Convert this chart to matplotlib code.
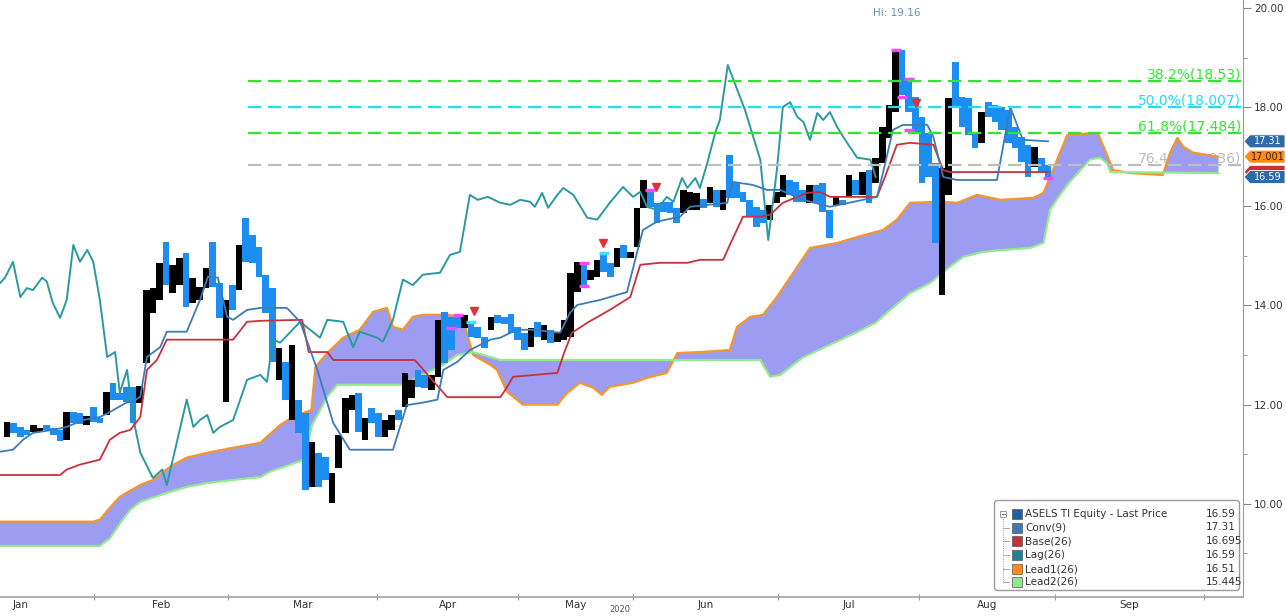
import numpy as np
import matplotlib.pyplot as plt
from matplotlib.patches import Polygon, FancyBboxPatch, Rectangle
from matplotlib.transforms import blended_transform_factory

W, H = 1286, 616

# daily candles (trading-day index 0..157), open / close
opens = [11.35, 11.63, 11.55, 11.49, 11.45, 11.45, 11.59, 11.53, 11.49, 11.29,
         11.85, 11.83, 11.59, 11.95, 11.73, 11.79, 12.44, 12.24, 12.36, 12.36,
         12.04, 12.84, 13.85, 14.11, 15.28, 14.25, 14.41, 15.06, 14.05, 14.11,
         14.35, 15.28, 14.45, 12.06, 14.41, 14.31, 15.76, 15.42, 15.18, 14.62,
         14.35, 12.50, 12.86, 11.69, 12.10, 11.83, 10.34, 11.03, 10.95, 10.02,
         10.72, 11.43, 11.90, 12.24, 11.29, 11.93, 11.83, 11.35, 11.49, 11.89,
         11.95, 12.14, 12.70, 12.60, 12.30, 12.56, 13.87, 13.77, 13.81, 13.55,
         13.67, 13.57, 13.37, 13.51, 13.81, 13.77, 13.83, 13.57, 13.45, 13.16,
         13.67, 13.31, 13.51, 13.27, 13.31, 13.37, 14.27, 14.86, 14.52, 14.58,
         15.06, 14.86, 14.78, 15.22, 14.96, 15.18, 15.97, 16.33, 16.07, 16.09,
         16.09, 15.97, 15.87, 15.93, 15.93, 16.15, 16.07, 16.33, 15.93, 17.04,
         16.47, 16.29, 16.13, 15.99, 15.93, 15.73, 16.07, 16.19, 16.53, 16.49,
         16.33, 16.07, 16.43, 16.47, 15.93, 16.03, 16.13, 16.19, 16.53, 16.23,
         16.73, 16.47, 16.87, 17.38, 17.90, 19.16, 18.59, 18.20, 17.80, 17.48,
         16.87, 14.21, 16.23, 18.91, 18.20, 18.18, 17.50, 17.28, 18.10, 18.04,
         18.00, 17.94, 17.60, 17.40, 17.24, 16.79, 16.97, 16.83]
closes = [11.65, 11.43, 11.35, 11.39, 11.59, 11.53, 11.49, 11.39, 11.27, 11.85,
          11.63, 11.61, 11.77, 11.65, 11.63, 12.26, 12.10, 12.10, 12.06, 11.63,
          12.38, 14.31, 14.35, 14.86, 14.41, 14.82, 14.96, 13.97, 14.56, 14.37,
          14.76, 14.37, 13.75, 14.11, 13.91, 15.22, 14.88, 14.86, 14.58, 13.85,
          12.86, 13.14, 12.10, 13.20, 11.43, 10.28, 11.25, 10.34, 10.48, 10.62,
          11.39, 12.14, 12.20, 11.45, 11.73, 11.63, 11.35, 11.69, 11.79, 11.69,
          12.64, 12.50, 12.36, 12.34, 12.60, 13.71, 12.84, 13.10, 13.55, 13.81,
          13.37, 13.35, 13.14, 13.77, 13.65, 13.63, 13.45, 13.31, 13.10, 13.55,
          13.37, 13.61, 13.25, 13.45, 13.71, 14.66, 14.88, 14.37, 14.72, 14.92,
          14.68, 14.58, 15.16, 14.96, 15.08, 15.97, 16.53, 15.99, 15.66, 15.89,
          15.87, 15.66, 16.33, 16.29, 16.27, 15.97, 16.39, 15.99, 16.33, 16.17,
          16.17, 16.09, 15.79, 15.58, 15.66, 16.03, 16.29, 16.63, 16.23, 16.09,
          16.09, 16.43, 16.07, 15.89, 15.36, 16.19, 16.03, 16.63, 16.23, 16.69,
          16.07, 16.97, 17.60, 18.04, 19.15, 18.25, 17.90, 17.48, 16.47, 16.59,
          15.26, 16.77, 18.19, 18.00, 17.60, 17.44, 17.18, 17.90, 17.80, 17.70,
          17.54, 17.28, 17.18, 16.89, 16.59, 17.20, 16.69, 16.59]

# indicator lines as (trading-day index, value)
conv = [(-1.06, 11.05), (0.9, 11.09), (2.4, 11.29), (3.9, 11.43), (6.9, 11.49), (9.0, 11.55),
        (11.5, 11.69), (14.0, 11.75), (15.5, 11.85), (18.0, 12.04), (19.0, 12.06), (20.1, 12.16),
        (21.1, 12.96), (23.1, 13.16), (24.1, 13.47), (27.1, 13.47), (29.1, 14.11), (30.3, 14.58),
        (31.8, 14.56), (33.2, 13.77), (34.1, 13.71), (36.2, 13.91), (38.2, 13.95), (42.2, 13.95),
        (44.2, 13.67), (46.8, 12.70), (49.2, 11.63), (51.7, 11.09), (58.2, 11.09), (60.3, 11.99),
        (62.7, 12.04), (64.9, 12.10), (65.8, 12.70), (67.9, 12.86), (69.8, 13.10), (72.9, 13.31),
        (74.4, 13.35), (76.9, 13.51), (79.3, 13.51), (83.4, 13.45), (84.9, 13.85), (86.0, 14.01),
        (89.4, 14.11), (93.5, 14.27), (95.0, 15.06), (95.9, 15.52), (98.0, 15.69), (101.5, 15.79),
        (103.0, 15.99), (108.6, 16.07), (109.5, 16.49), (112.5, 16.43), (114.6, 16.33), (116.6, 16.33),
        (117.6, 16.27), (120.1, 16.13), (124.1, 15.99), (131.2, 16.19), (132.1, 16.67), (133.6, 17.54),
        (135.1, 17.64), (138.8, 17.64), (139.7, 17.40), (141.2, 16.59), (143.3, 16.53), (149.3, 16.53),
        (151.3, 18.00), (153.2, 17.34), (157.0, 17.31)]
base = [(-1.06, 10.58), (8.0, 10.58), (9.0, 10.69), (11.0, 10.79), (14.0, 10.89), (15.5, 11.29),
        (17.0, 11.43), (18.6, 11.49), (20.1, 11.75), (21.1, 12.70), (22.6, 12.90), (24.1, 13.31),
        (34.1, 13.31), (36.2, 13.67), (38.2, 13.69), (44.5, 13.71), (45.5, 13.06), (48.3, 13.06),
        (49.2, 12.90), (61.5, 12.90), (66.4, 12.15), (74.4, 12.15), (75.4, 12.35), (76.3, 12.56),
        (83.0, 12.64), (84.0, 13.04), (85.2, 13.45), (87.5, 13.65), (90.9, 13.91), (94.0, 14.17),
        (95.5, 14.82), (98.5, 14.86), (102.6, 14.86), (104.5, 14.92), (108.0, 14.92), (109.0, 15.22),
        (111.0, 15.79), (113.6, 15.79), (115.1, 15.83), (117.0, 16.07), (120.7, 16.27), (122.6, 16.29),
        (124.1, 16.19), (131.2, 16.19), (132.4, 16.59), (134.2, 17.24), (136.2, 17.28), (139.7, 17.24),
        (141.2, 16.73), (142.2, 16.69), (157.0, 16.69)]
lag = [(-1.06, 14.45), (-0.3, 14.56), (0.9, 14.88), (2.0, 14.17), (3.0, 14.35), (3.9, 14.31),
       (5.3, 14.56), (6.0, 14.48), (6.9, 14.05), (8.0, 13.75), (9.0, 14.11), (10.0, 15.22),
       (11.0, 14.88), (12.1, 15.12), (13.0, 14.88), (14.0, 14.11), (15.1, 12.96), (16.3, 13.06),
       (17.0, 12.24), (18.1, 12.70), (18.6, 12.16), (19.0, 11.75), (20.1, 11.03), (22.0, 10.52),
       (23.4, 10.69), (24.1, 10.38), (25.0, 10.89), (27.1, 12.10), (28.1, 11.55), (29.1, 11.69),
       (30.2, 11.79), (31.1, 11.43), (32.1, 11.55), (34.1, 11.69), (36.2, 12.50), (38.2, 12.60),
       (39.2, 12.46), (40.1, 13.31), (41.2, 13.25), (44.2, 13.67), (47.2, 13.35), (48.3, 13.71),
       (50.7, 13.67), (52.2, 13.16), (53.2, 13.47), (55.8, 13.35), (56.7, 13.27), (58.2, 13.71),
       (59.7, 14.52), (61.2, 14.41), (62.7, 14.62), (65.3, 14.66), (66.8, 15.02), (68.3, 15.08),
       (69.8, 16.23), (71.0, 16.13), (72.5, 16.19), (74.4, 16.07), (75.9, 16.03), (77.4, 16.13),
       (78.9, 16.09), (79.6, 15.99), (80.7, 16.27), (81.6, 15.97), (83.0, 16.23), (83.9, 16.37),
       (85.4, 16.23), (87.5, 15.77), (89.0, 15.73), (90.9, 16.07), (92.9, 16.39), (94.4, 16.19),
       (95.5, 16.29), (96.5, 15.99), (98.0, 15.93), (99.5, 16.19), (100.5, 16.09), (101.8, 16.57),
       (102.6, 16.37), (103.8, 16.57), (104.5, 16.37), (105.6, 16.87), (106.8, 17.48), (107.5, 17.74),
       (108.7, 18.85), (111.3, 17.94), (113.6, 16.94), (114.8, 15.32), (116.1, 16.73), (117.0, 18.00),
       (118.1, 18.10), (119.2, 17.80), (120.1, 17.70), (121.1, 17.34), (122.2, 17.88), (123.1, 17.74),
       (124.1, 17.90), (125.2, 17.60), (126.1, 17.40), (128.2, 16.98), (130.2, 16.94), (131.0, 16.59)]
lead1 = [(-1.06, 9.64), (13.0, 9.64), (14.0, 9.68), (15.5, 9.92), (17.0, 10.14), (20.1, 10.38),
         (22.0, 10.48), (24.6, 10.75), (27.1, 10.93), (30.2, 11.03), (34.1, 11.13), (38.2, 11.23),
         (41.2, 11.59), (43.1, 11.75), (45.9, 11.89), (46.5, 12.76), (48.3, 13.04), (50.7, 13.35),
         (53.2, 13.51), (55.2, 13.87), (57.3, 13.95), (58.2, 13.57), (59.7, 13.51), (61.2, 13.77),
         (62.7, 13.81), (66.8, 13.81), (68.8, 13.71), (70.3, 13.00), (72.9, 12.80), (73.9, 12.70),
         (75.4, 12.26), (77.8, 12.00), (83.0, 12.00), (84.5, 12.24), (86.4, 12.44), (88.4, 12.34),
         (89.7, 12.20), (90.9, 12.36), (94.4, 12.44), (96.5, 12.54), (99.5, 12.64), (100.3, 12.84),
         (101.1, 13.04), (104.5, 13.06), (109.0, 13.10), (110.1, 13.57), (112.1, 13.77), (114.0, 13.81),
         (116.1, 14.17), (121.1, 15.16), (125.2, 15.26), (128.2, 15.38), (132.1, 15.52), (134.2, 15.73),
         (136.2, 16.07), (141.2, 16.09), (143.3, 16.07), (146.3, 16.23), (149.8, 16.13), (154.8, 16.17),
         (156.3, 16.27), (157.3, 16.59), (158.8, 17.08), (159.9, 17.44), (164.5, 17.48), (166.4, 16.87),
         (166.8, 16.73), (169.4, 16.67), (174.3, 16.63), (175.4, 17.08), (176.5, 17.38), (177.4, 17.20),
         (178.9, 17.08), (182.7, 17.00)]
lead2 = [(-1.06, 9.15), (14.0, 9.15), (15.5, 9.30), (17.0, 9.60), (18.6, 9.88), (20.1, 10.04),
         (24.1, 10.22), (27.1, 10.34), (30.2, 10.42), (34.1, 10.48), (38.2, 10.54), (39.7, 10.65),
         (42.7, 10.79), (44.9, 10.89), (46.0, 11.59), (48.3, 12.16), (49.8, 12.40), (59.7, 12.40),
         (62.7, 12.60), (65.8, 12.80), (67.9, 13.00), (70.3, 13.06), (74.4, 12.90), (113.6, 12.90),
         (115.1, 12.56), (116.6, 12.60), (120.0, 12.95), (124.0, 13.20), (128.0, 13.45), (131.0, 13.65),
         (133.2, 13.91), (136.2, 14.25), (139.2, 14.45), (142.2, 14.78), (144.2, 14.98), (147.2, 15.08),
         (150.2, 15.12), (154.3, 15.16), (156.3, 15.26), (157.3, 15.93), (158.8, 16.23), (160.0, 16.45),
         (163.3, 16.94), (164.8, 16.98), (165.9, 16.87), (166.4, 16.69), (182.7, 16.67)]

fib_levels = [18.53, 18.007, 17.484, 16.836]
fib_labels = ["38.2%(18.53)", "50.0%(18.007)", "61.8%(17.484)", "76.4%(16.836)"]
fib_colors = ["#2ee82e", "#22dcf5", "#2ee82e", "#bdbdbd"]
fib_start = 36.3

sell_marks = [(70.4, 13.89), (89.9, 15.26), (97.9, 16.39), (137.1, 18.08)]
magenta_marks = [(134, 19.15), (136, 18.57), (135, 18.20), (136, 17.54), (157, 16.57),
                 (97, 16.33), (87, 14.86), (87, 14.40), (68, 13.81), (67, 13.55)]
cyan_marks = [(90, 15.06), (70, 13.67)]

month_edges = [-8.9, 13.1, 33.3, 55.8, 77.1, 94.4, 116.3, 137.6, 158.1, 180.5]
month_names = ["Jan", "Feb", "Mar", "Apr", "May", "Jun", "Jul", "Aug", "Sep"]

legend_names = ["ASELS TI Equity - Last Price", "Conv(9)", "Base(26)", "Lag(26)", "Lead1(26)", "Lead2(26)"]
legend_values = ["16.59", "17.31", "16.695", "16.59", "16.51", "15.445"]

c_price = "#1f5fa8"
c_conv = "#3d7bb8"
c_base = "#c8303c"
c_lag = "#2a9a9e"
c_lead1 = "#f5962a"
c_lead2 = "#92ea8c"
c_cloud = "#9c9cf2"
c_down = "#1c8ef2"
legend_colors = [c_price, c_conv, c_base, "#1b8299", "#ff8c1a", "#90e890"]

tag_values = [16.695, 17.31, 17.001, 16.59]
tag_texts = ["", "17.31", "17.001", "16.59"]
tag_colors = [c_base, "#2d6aa8", "#ff8c1a", "#2d6aa8"]
tag_textcolors = ["white", "white", "#3a2000", "white"]

fig = plt.figure(figsize=(W / 100, H / 100), dpi=100)
ax = fig.add_axes([0, 1 - 597 / H, 1243 / W, 597 / H])
ax.set_xlim(-1.06, 186.4)
ax.set_ylim(8.12, 20.16)

# cloud between the two lead lines
l1x, l1y = zip(*lead1)
l2x, l2y = zip(*lead2)
ax.fill(np.r_[l1x, l2x[::-1]], np.r_[l1y, l2y[::-1]], color=c_cloud, lw=0, zorder=1)
ax.plot(l1x, l1y, color=c_lead1, lw=1.6, zorder=2)
ax.plot(l2x, l2y, color=c_lead2, lw=1.6, zorder=2)

# candles
o = np.array(opens)
c = np.array(closes)
idx = np.arange(len(o))
up = c >= o
bottoms = np.minimum(o, c)
heights = np.maximum(np.abs(c - o), 0.06)
ax.bar(idx, heights, bottom=bottoms, width=1.0, color=np.where(up, "black", c_down), lw=0, zorder=3)

for pts, col in [(magenta_marks, "#ff44ff"), (cyan_marks, "#33e5ff")]:
    mx, my = zip(*pts)
    ax.plot(mx, my, ls="none", marker="_", ms=7, mew=2.5, color=col, zorder=3.5)
tx, ty = zip(*sell_marks)
ax.plot(tx, ty, ls="none", marker="v", ms=6, color="#e2313c", zorder=6)

# ichimoku lines
for pts, col, lw in [(lag, c_lag, 1.4), (base, c_base, 1.3), (conv, c_conv, 1.3)]:
    px, py = zip(*pts)
    ax.plot(px, py, color=col, lw=lw, zorder=4)

# fibonacci levels
for lev, lab, col in zip(fib_levels, fib_labels, fib_colors):
    ax.plot([fib_start, 186.1], [lev, lev], color=col, lw=1.6, ls=(0, (6, 3)), zorder=5)
    ax.text(186.1, lev + 0.04, lab, color=col, fontsize=10, ha="right", va="baseline",
            zorder=0.5 if lab.startswith("76") else 5)

ax.text(134.2, 19.9, "Hi: 19.16", color="#6b90b8", fontsize=7.5, ha="center", va="center", zorder=6)

# axes styling
for s in ["top", "left"]:
    ax.spines[s].set_visible(False)
ax.spines["right"].set_color("#9a9a9a")
ax.spines["bottom"].set_color("#a8a8a8")
ax.spines["bottom"].set_linewidth(1.3)
ax.yaxis.tick_right()
ax.set_yticks(np.arange(10, 21, 2))
ax.set_yticklabels([f"{v:.2f}" for v in np.arange(10, 21, 2)])
ax.set_yticks(np.arange(9, 20, 2), minor=True)
ax.tick_params(axis="y", which="major", direction="out", length=6, color="#888888",
               labelsize=7.5, labelcolor="#333333", pad=2)
ax.tick_params(axis="y", which="minor", direction="out", length=3, color="#888888")
ax.set_xticks(month_edges[1:])
ax.set_xticklabels([])
ax.tick_params(axis="x", direction="inout", length=4, color="#999999")
btrans = blended_transform_factory(ax.transData, ax.transAxes)
for i, name in enumerate(month_names):
    mid = (month_edges[i] + month_edges[i + 1]) / 2
    ax.text(mid, -8 / 597, name, transform=btrans, fontsize=7.5, color="#333333",
            ha="center", va="center")
fig.text(620 / W, 1 - 610 / H, "2020", fontsize=6, color="#555555", ha="center", va="center")

# value tags at right edge
ttrans = blended_transform_factory(ax.transAxes, ax.transData)
hh = 6.5 / 49.6
for val, txt, col, tcol in zip(tag_values, tag_texts, tag_colors, tag_textcolors):
    x0, x1, x2 = 1.0008, 1250 / 1243, 1285 / 1243
    poly = Polygon([(x0, val), (x1, val + hh), (x2, val + hh), (x2, val - hh), (x1, val - hh)],
                   closed=True, transform=ttrans, facecolor=col, edgecolor="white", lw=0.6,
                   clip_on=False, zorder=7)
    ax.add_patch(poly)
    if txt:
        ax.text(1268 / 1243, val, txt, transform=ttrans, fontsize=7, color=tcol,
                ha="center", va="center", clip_on=False, zorder=8)

# legend box
lx0, ly0, lw_, lh_ = 993, 499, 248, 93
lax = fig.add_axes([lx0 / W, 1 - (ly0 + lh_) / H, lw_ / W, lh_ / H])
lax.set_xlim(0, lw_)
lax.set_ylim(lh_, 0)
lax.axis("off")
lax.add_patch(FancyBboxPatch((1.5, 1.5), lw_ - 3, lh_ - 3, boxstyle="round,pad=0,rounding_size=3",
                             facecolor="white", edgecolor="#9a9a9a", lw=1.0))
rows = [15, 28.5, 42, 56, 70, 83]
lax.plot([10, 10], [rows[0], rows[-1]], color="#aaaaaa", lw=0.8, ls=(0, (1, 1)))
lax.add_patch(Rectangle((7, rows[0] - 3), 6, 6, facecolor="white", edgecolor="#999999", lw=0.7))
lax.plot([8.5, 11.5], [rows[0], rows[0]], color="#777777", lw=0.7)
for r, name, val, col in zip(rows, legend_names, legend_values, legend_colors):
    if r != rows[0]:
        lax.plot([10, 16], [r, r], color="#aaaaaa", lw=0.7)
    lax.add_patch(Rectangle((19, r - 5), 10, 10, facecolor=col, edgecolor="#555555", lw=0.5))
    lax.text(32, r, name, fontsize=7.5, color="#333333", va="center", ha="left")
    lax.text(213, r, val, fontsize=7.5, color="#333333", va="center", ha="left")

fig.savefig("out.png", dpi=100)
